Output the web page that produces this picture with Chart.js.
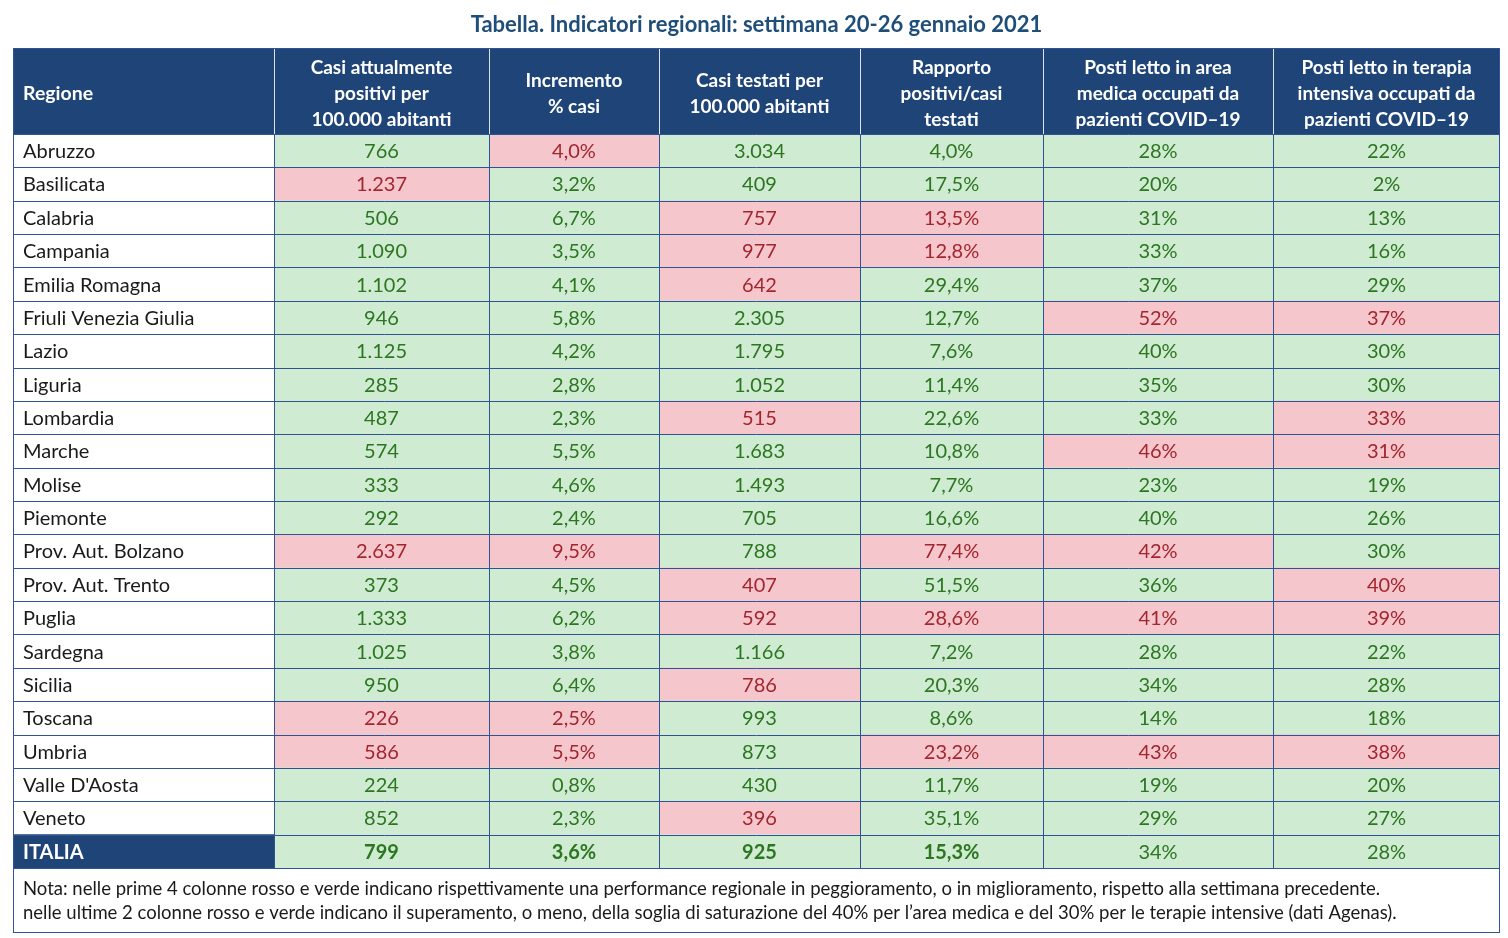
<!DOCTYPE html>
<html>
<head>
<meta charset="utf-8">
<script src="https://cdn.jsdelivr.net/npm/chart.js@4.4.1/dist/chart.umd.min.js"></script>
<style>
  html, body { margin: 0; padding: 0; background: #ffffff; }
  #wrap { width: 1508px; height: 938px; position: relative; }
</style>
</head>
<body>
<div id="wrap"><canvas id="tabella"></canvas></div>
<script>
// Table data
const regions = ['Abruzzo', 'Basilicata', 'Calabria', 'Campania', 'Emilia Romagna', 'Friuli Venezia Giulia',
    'Lazio', 'Liguria', 'Lombardia', 'Marche', 'Molise', 'Piemonte', 'Prov. Aut. Bolzano', 'Prov. Aut. Trento',
    'Puglia', 'Sardegna', 'Sicilia', 'Toscana', 'Umbria', "Valle D'Aosta", 'Veneto', 'ITALIA'];

const casiPositivi = [766, 1237, 506, 1090, 1102, 946, 1125, 285, 487, 574, 333, 292, 2637, 373, 1333, 1025, 950, 226, 586, 224, 852, 799];
const incremento = [4.0, 3.2, 6.7, 3.5, 4.1, 5.8, 4.2, 2.8, 2.3, 5.5, 4.6, 2.4, 9.5, 4.5, 6.2, 3.8, 6.4, 2.5, 5.5, 0.8, 2.3, 3.6];
const casiTestati = [3034, 409, 757, 977, 642, 2305, 1795, 1052, 515, 1683, 1493, 705, 788, 407, 592, 1166, 786, 993, 873, 430, 396, 925];
const rapporto = [4.0, 17.5, 13.5, 12.8, 29.4, 12.7, 7.6, 11.4, 22.6, 10.8, 7.7, 16.6, 77.4, 51.5, 28.6, 7.2, 20.3, 8.6, 23.2, 11.7, 35.1, 15.3];
const areaMedica = [28, 20, 31, 33, 37, 52, 40, 35, 33, 46, 23, 40, 42, 36, 41, 28, 34, 14, 43, 19, 29, 34];
const terapiaIntensiva = [22, 2, 13, 16, 29, 37, 30, 30, 33, 31, 19, 26, 30, 40, 39, 22, 28, 18, 38, 20, 27, 28];

// 1 = red (worse / over threshold), 0 = green
const rossoCasi = [0, 1, 0, 0, 0, 0, 0, 0, 0, 0, 0, 0, 1, 0, 0, 0, 0, 1, 1, 0, 0, 0];
const rossoIncremento = [1, 0, 0, 0, 0, 0, 0, 0, 0, 0, 0, 0, 1, 0, 0, 0, 0, 1, 1, 0, 0, 0];
const rossoTestati = [0, 0, 1, 1, 1, 0, 0, 0, 1, 0, 0, 0, 0, 1, 1, 0, 1, 0, 0, 0, 1, 0];
const rossoRapporto = [0, 0, 1, 1, 0, 0, 0, 0, 0, 0, 0, 0, 1, 0, 1, 0, 0, 0, 1, 0, 0, 0];
const rossoAreaMedica = [0, 0, 0, 0, 0, 1, 0, 0, 0, 1, 0, 0, 1, 0, 1, 0, 0, 0, 1, 0, 0, 0];
const rossoTerapia = [0, 0, 0, 0, 0, 1, 0, 0, 1, 1, 0, 0, 0, 1, 1, 0, 0, 0, 1, 0, 0, 0];

const headers = [
    ['Regione'],
    ['Casi attualmente', 'positivi per', '100.000 abitanti'],
    ['Incremento', '% casi'],
    ['Casi testati per', '100.000 abitanti'],
    ['Rapporto', 'positivi/casi', 'testati'],
    ['Posti letto in area', 'medica occupati da', 'pazienti COVID\u201319'],
    ['Posti letto in terapia', 'intensiva occupati da', 'pazienti COVID\u201319']
];

const titleText = 'Tabella. Indicatori regionali: settimana 20-26 gennaio 2021';
const noteLines = [
    'Nota: nelle prime 4 colonne rosso e verde indicano rispettivamente una performance regionale in peggioramento, o in miglioramento, rispetto alla settimana precedente.',
    'nelle ultime 2 colonne rosso e verde indicano il superamento, o meno, della soglia di saturazione del 40% per l\u2019area medica e del 30% per le terapie intensive (dati Agenas).'
];

// Layout
const colWidths = [261, 215, 170, 201, 183, 230, 227];
const FONT = 'Lato, "Noto Sans", sans-serif';
const NAVY = '#1f4477';
const GRID = '#2f5496';
const GREEN_BG = '#cfebd1';
const RED_BG = '#f5c6cc';
const GREEN_TX = '#2c7621';
const RED_TX = '#a3262e';

function fmtInt(n) {
    return String(n).replace(/\B(?=(\d{3})+(?!\d))/g, '.');
}
function fmtDec(v) {
    return v.toFixed(1).replace('.', ',') + '%';
}
function fmtPct(v) {
    return v + '%';
}

const columns = [
    { values: casiPositivi, red: rossoCasi, fmt: fmtInt },
    { values: incremento, red: rossoIncremento, fmt: fmtDec },
    { values: casiTestati, red: rossoTestati, fmt: fmtInt },
    { values: rapporto, red: rossoRapporto, fmt: fmtDec },
    { values: areaMedica, red: rossoAreaMedica, fmt: fmtPct },
    { values: terapiaIntensiva, red: rossoTerapia, fmt: fmtPct }
];

const lastRow = regions.length - 1;

function cellColor(col, row) {
    if (col === 0) return row === lastRow ? NAVY : '#ffffff';
    return columns[col - 1].red[row] ? RED_BG : GREEN_BG;
}

const datasets = colWidths.map((w, c) => ({
    label: headers[c].join(' '),
    data: regions.map(() => w),
    backgroundColor: (ctx) => cellColor(c, ctx.dataIndex),
    borderWidth: 0,
    barPercentage: 1,
    categoryPercentage: 1,
    stack: 'tabella'
}));

// Draws title, header, cell texts, grid lines and note
const tablePlugin = {
    id: 'tablePlugin',
    afterDatasetsDraw(chart) {
        const ctx = chart.ctx;
        const area = chart.chartArea;
        const metas = chart.data.datasets.map((d, i) => chart.getDatasetMeta(i));
        const headTop = 48;
        const left = area.left, right = area.right;

        ctx.save();
        ctx.textBaseline = 'middle';

        // title
        ctx.fillStyle = '#1f4e79';
        ctx.font = 'bold 22px ' + FONT;
        ctx.textAlign = 'center';
        ctx.fillText(titleText, (left + right) / 2, 25);

        // header
        ctx.fillStyle = NAVY;
        ctx.fillRect(left, headTop, right - left, area.top - headTop);
        ctx.fillStyle = '#ffffff';
        metas.forEach((m, c) => {
            const p = m.data[0].getProps(['x', 'base'], true);
            const lines = headers[c];
            const midY = (headTop + area.top) / 2 + 3;
            const lh = 26;
            lines.forEach((t, k) => {
                const y = midY + (k - (lines.length - 1) / 2) * lh;
                if (c === 0) {
                    ctx.font = 'bold 19.5px ' + FONT;
                    ctx.textAlign = 'left';
                    ctx.fillText(t, p.base + 10, y);
                } else {
                    ctx.font = 'bold 19px ' + FONT;
                    ctx.textAlign = 'center';
                    ctx.fillText(t, (p.x + p.base) / 2, y);
                }
            });
        });

        // cells
        metas.forEach((m, c) => {
            m.data.forEach((el, r) => {
                const p = el.getProps(['x', 'y', 'base'], true);
                if (c === 0) {
                    const isTot = r === lastRow;
                    ctx.fillStyle = isTot ? '#ffffff' : '#1a1a1a';
                    ctx.font = (isTot ? 'bold ' : '') + '20px ' + FONT;
                    ctx.textAlign = 'left';
                    ctx.fillText(regions[r], p.base + 10, p.y + 1);
                } else {
                    const col = columns[c - 1];
                    const bold = r === lastRow && c <= 4;
                    ctx.fillStyle = col.red[r] ? RED_TX : GREEN_TX;
                    ctx.font = (bold ? 'bold ' : '') + '20px ' + FONT;
                    ctx.textAlign = 'center';
                    ctx.fillText(col.fmt(col.values[r]), (p.x + p.base) / 2, p.y + 1);
                }
            });
        });

        // grid lines
        ctx.lineWidth = 1;
        ctx.strokeStyle = GRID;
        ctx.beginPath();
        metas[0].data.forEach((el) => {
            const p = el.getProps(['y', 'height'], true);
            const yb = Math.round(p.y + p.height / 2) + 0.5;
            ctx.moveTo(left, yb);
            ctx.lineTo(right, yb);
        });
        ctx.moveTo(left, Math.round(area.top) + 0.5);
        ctx.lineTo(right, Math.round(area.top) + 0.5);
        metas.forEach((m, c) => {
            const p = m.data[0].getProps(['x', 'base'], true);
            const xb = Math.round(p.base) + 0.5;
            ctx.moveTo(xb, area.top);
            ctx.lineTo(xb, area.bottom);
        });
        ctx.moveTo(Math.round(right) - 0.5, headTop);
        ctx.lineTo(Math.round(right) - 0.5, area.bottom);
        ctx.moveTo(left + 0.5, headTop);
        ctx.lineTo(left + 0.5, area.bottom);
        ctx.moveTo(left, headTop + 0.5);
        ctx.lineTo(right, headTop + 0.5);
        ctx.stroke();

        // header separators
        ctx.strokeStyle = '#dbe3f0';
        ctx.beginPath();
        metas.forEach((m, c) => {
            if (c === 0) return;
            const p = m.data[0].getProps(['base'], true);
            const xb = Math.round(p.base) + 0.5;
            ctx.moveTo(xb, headTop + 1);
            ctx.lineTo(xb, area.top);
        });
        ctx.stroke();

        // note box
        const noteTop = area.bottom;
        const noteBottom = noteTop + 64;
        ctx.strokeStyle = GRID;
        ctx.strokeRect(left + 0.5, Math.round(noteTop) + 0.5, right - left - 1, noteBottom - noteTop);
        ctx.fillStyle = '#1a1a1a';
        ctx.font = '18.5px ' + FONT;
        ctx.textAlign = 'left';
        noteLines.forEach((t, k) => {
            ctx.fillText(t, left + 10, noteTop + 21 + k * 24);
        });

        ctx.restore();
    }
};

new Chart(document.getElementById('tabella'), {
    type: 'bar',
    data: { labels: regions, datasets: datasets },
    options: {
        indexAxis: 'y',
        responsive: true,
        maintainAspectRatio: false,
        animation: false,
        events: [],
        layout: { padding: { left: 13, right: 8, top: 134, bottom: 70 } },
        plugins: {
            legend: { display: false },
            tooltip: { enabled: false },
            title: { display: false }
        },
        scales: {
            x: { stacked: true, min: 0, max: colWidths.reduce((a, b) => a + b, 0), display: false },
            y: { stacked: true, display: false }
        }
    },
    plugins: [tablePlugin]
});
</script>
</body>
</html>
